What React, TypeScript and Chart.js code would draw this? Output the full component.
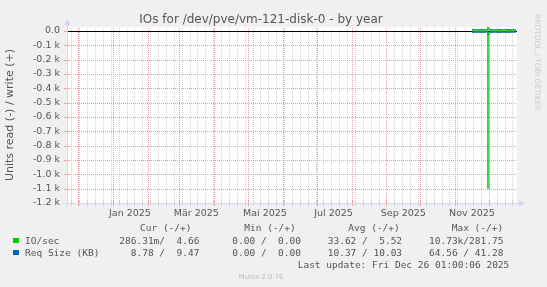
import React, { useEffect, useRef } from 'react';
import { Chart, registerables } from 'chart.js';

Chart.register(...registerables);

// ---------------- data ----------------
const dates = [
  '2025-11-16', '2025-11-17', '2025-11-18', '2025-11-19', '2025-11-20', '2025-11-21', '2025-11-22',
  '2025-11-23', '2025-11-24', '2025-11-25', '2025-11-26', '2025-11-27', '2025-11-28', '2025-11-29',
  '2025-11-30',
  '2025-12-01', '2025-12-02', '2025-12-03', '2025-12-04', '2025-12-05', '2025-12-06', '2025-12-07',
  '2025-12-08', '2025-12-09', '2025-12-10', '2025-12-11', '2025-12-12', '2025-12-13', '2025-12-14',
  '2025-12-15', '2025-12-16', '2025-12-17', '2025-12-18', '2025-12-19', '2025-12-20', '2025-12-21',
  '2025-12-22', '2025-12-23', '2025-12-24', '2025-12-25',
];
const ioRead = [
  -7.2, -5.1, -4.3, -6.8, -3.9, -2.7, -2.4, -5.6, -4.8, -7.5, -4.1, -3.3, -2.6, -3.0,
  -1098,
  -8.4, -5.9, -4.6, -3.8, -2.5, -2.2, -5.3, -4.7, -6.1, -3.9, -3.4, -2.3, -2.1, -4.9, -4.4,
  -5.2, -3.7, -3.1, -2.4, -2.0, -3.6, -2.9, -1.8, -1.2, -0.29,
];
const ioWrite = [
  6.1, 5.4, 4.9, 5.8, 5.2, 4.3, 4.1, 5.6, 5.3, 6.0, 5.1, 4.4, 4.0, 4.6,
  27.5,
  7.9, 6.2, 5.5, 5.0, 4.2, 3.9, 5.4, 5.2, 5.9, 4.8, 4.5, 3.8, 3.7, 5.1, 4.9,
  5.3, 4.6, 4.2, 3.9, 3.6, 4.4, 4.1, 3.5, 3.9, 4.66,
];
const reqRead = [
  -11.2, -10.5, -9.8, -10.9, -10.1, -9.4, -9.2, -10.6, -10.3, -11.0, -10.2, -9.6, -9.3, -9.9,
  -28.0,
  -11.4, -10.7, -10.2, -9.9, -9.3, -9.1, -10.4, -10.2, -10.8, -9.9, -9.7, -9.2, -9.0, -10.3, -10.1,
  -10.4, -9.8, -9.5, -9.2, -8.9, -9.7, -9.4, -8.8, -9.1, -8.78,
];
const reqWrite = [
  10.4, 10.1, 9.8, 10.3, 10.0, 9.6, 9.5, 10.2, 10.1, 10.5, 9.9, 9.7, 9.5, 9.8,
  12.6,
  10.6, 10.2, 10.0, 9.8, 9.5, 9.4, 10.1, 10.0, 10.3, 9.8, 9.7, 9.4, 9.3, 10.0, 9.9,
  10.1, 9.7, 9.6, 9.4, 9.3, 9.7, 9.5, 9.2, 9.4, 9.47,
];

const yTickValues = [-1200, -1100, -1000, -900, -800, -700, -600, -500, -400, -300, -200, -100, 0];
const yMin = -1200;
const yMax = 28;

const monthLabels = ['Jan 2025', 'Mär 2025', 'Mai 2025', 'Jul 2025', 'Sep 2025', 'Nov 2025'];
const monthLabelDates = ['2025-01-01', '2025-03-01', '2025-05-01', '2025-07-01', '2025-09-01', '2025-11-01'];

const titleText = 'IOs for /dev/pve/vm-121-disk-0 - by year';
const yAxisTitle = 'Units read (-) / write (+)';
const legendHeaders = ['Cur (-/+)', 'Min (-/+)', 'Avg (-/+)', 'Max (-/+)'];
const seriesNames = ['IO/sec', 'Req Size (KB)'];
const seriesColors = ['#00CC00', '#0066B3'];
const statCur = ['286.31m/  4.66', '  8.78 /  9.47'];
const statMin = ['  0.00 /  0.00', '  0.00 /  0.00'];
const statAvg = [' 33.62 /  5.52', ' 10.37 / 10.03'];
const statMax = [' 10.73k/281.75', ' 64.56 / 41.28'];
const lastUpdate = 'Last update: Fri Dec 26 01:00:06 2025';
const footer = 'Munin 2.0.76';
const watermark = 'RRDTOOL / TOBI OETIKER';

// ---------------- time helpers ----------------
const END_MS = Date.parse('2025-12-26T01:00:06+01:00');
const SPAN_DAYS = 400;
const START_MS = END_MS - SPAN_DAYS * 86400000;
const toDay = (iso: string) => (Date.parse(iso + 'T00:00:00+01:00') - START_MS) / 86400000;

function monthStarts(): number[] {
  const out: number[] = [];
  for (let y = 2024; y <= 2025; y++) {
    for (let m = 0; m < 12; m++) {
      const d = toDay(`${y}-${String(m + 1).padStart(2, '0')}-01`);
      if (d > 0 && d < SPAN_DAYS) out.push(d);
    }
  }
  return out;
}
function mondays(majors: number[]): number[] {
  const out: number[] = [];
  const first = Date.parse('2024-11-25T00:00:00+01:00');
  for (let t = first; t < END_MS; t += 7 * 86400000) {
    const d = (t - START_MS) / 86400000;
    if (d > 0 && d < SPAN_DAYS && !majors.some((m) => Math.abs(m - d) < 0.5)) out.push(d);
  }
  return out;
}
const labelTicks = monthLabelDates.map((iso, i) => ({ value: toDay(iso) + 15, label: monthLabels[i] }));

const AXIS = '#CFD6F8';
const MAJOR = '#F49A9A';
const MINOR = '#D2D2D2';
const FONT = "'DejaVu Sans', sans-serif";
const MONO = "'DejaVu Sans Mono', monospace";
const TXT = '#555555';

const decor = {
  id: 'decor',
  beforeDraw(chart: any) {
    const { ctx, chartArea: a } = chart;
    ctx.save();
    ctx.fillStyle = '#F0F0F0';
    ctx.fillRect(0, 0, chart.width, chart.height);
    ctx.fillStyle = '#FFFFFF';
    ctx.fillRect(a.left, a.top, a.right - a.left, a.bottom - a.top);
    ctx.restore();
  },
  beforeDatasetsDraw(chart: any) {
    const { ctx, chartArea: a, scales } = chart;
    const majors = monthStarts();
    const minors = mondays(majors);
    const top = Math.round(a.top);
    const bottom = Math.round(a.bottom);
    const left = Math.round(a.left);
    const right = Math.round(a.right);
    ctx.save();
    ctx.lineWidth = 1;
    const vline = (d: number, color: string) => {
      const px = Math.round(scales.x.getPixelForValue(d)) + 0.5;
      ctx.strokeStyle = color;
      ctx.setLineDash([1, 1]);
      ctx.beginPath();
      ctx.moveTo(px, bottom);
      ctx.lineTo(px, top);
      ctx.stroke();
      // small tick marks across the axis
      ctx.setLineDash([]);
      ctx.beginPath();
      ctx.moveTo(px, bottom - 2);
      ctx.lineTo(px, bottom + 3);
      ctx.stroke();
    };
    minors.forEach((d) => vline(d, MINOR));
    majors.forEach((d) => vline(d, MAJOR));
    ctx.setLineDash([1, 1]);
    ctx.strokeStyle = MAJOR;
    for (const v of yTickValues) {
      const py = Math.round(scales.y.getPixelForValue(v)) + 0.5;
      ctx.beginPath();
      ctx.moveTo(left, py);
      ctx.lineTo(right, py);
      ctx.stroke();
    }
    ctx.setLineDash([]);
    for (const v of yTickValues) {
      const py = Math.round(scales.y.getPixelForValue(v)) + 0.5;
      ctx.beginPath();
      ctx.moveTo(left - 3, py);
      ctx.lineTo(left + 2, py);
      ctx.stroke();
    }
    // zero line
    const y0 = Math.round(scales.y.getPixelForValue(0)) + 0.5;
    ctx.strokeStyle = '#000000';
    ctx.beginPath();
    ctx.moveTo(left, y0);
    ctx.lineTo(right, y0);
    ctx.stroke();
    ctx.restore();
  },
  afterDraw(chart: any) {
    const { ctx, chartArea: a } = chart;
    const lx = Math.round(a.left) + 0.5;
    const by = Math.round(a.bottom) + 0.5;
    ctx.save();
    ctx.strokeStyle = AXIS;
    ctx.fillStyle = AXIS;
    ctx.lineWidth = 1;
    ctx.beginPath();
    ctx.moveTo(lx, a.bottom + 4);
    ctx.lineTo(lx, a.top - 3);
    ctx.moveTo(a.left - 4, by);
    ctx.lineTo(a.right + 3, by);
    ctx.stroke();
    ctx.beginPath();
    ctx.moveTo(lx, a.top - 8);
    ctx.lineTo(lx - 3, a.top - 2);
    ctx.lineTo(lx + 3, a.top - 2);
    ctx.closePath();
    ctx.fill();
    ctx.beginPath();
    ctx.moveTo(a.right + 8, by);
    ctx.lineTo(a.right + 2, by - 3);
    ctx.lineTo(a.right + 2, by + 3);
    ctx.closePath();
    ctx.fill();
    ctx.restore();
  },
};

function makeSet(label: string, values: number[], color: string) {
  return {
    label,
    data: dates.map((d, i) => ({ x: toDay(d), y: values[i] })),
    borderColor: color,
    backgroundColor: color,
    borderWidth: 1,
    pointRadius: 0,
    stepped: 'before' as const,
    fill: false,
  };
}

export default function App() {
  const ref = useRef<HTMLCanvasElement | null>(null);

  useEffect(() => {
    if (!ref.current) return;
    const chart = new Chart(ref.current, {
      type: 'line',
      data: {
        datasets: [
          makeSet('IO/sec read', ioRead, seriesColors[0]),
          makeSet('IO/sec write', ioWrite, seriesColors[0]),
          makeSet('Req Size (KB) read', reqRead, seriesColors[1]),
          makeSet('Req Size (KB) write', reqWrite, seriesColors[1]),
        ],
      },
      options: {
        animation: false,
        responsive: false,
        events: [],
        layout: { padding: { left: 0, right: 30, top: 27, bottom: 64 } },
        plugins: { legend: { display: false }, tooltip: { enabled: false }, title: { display: false } },
        scales: {
          x: {
            type: 'linear',
            min: 0,
            max: SPAN_DAYS,
            afterBuildTicks: (s: any) => {
              s.ticks = labelTicks.map((t) => ({ value: t.value }));
            },
            afterFit: (s: any) => {
              s.height = 20;
            },
            ticks: {
              autoSkip: false,
              maxRotation: 0,
              minRotation: 0,
              padding: 5,
              color: TXT,
              font: { family: FONT, size: 9.5 },
              callback: (_v: any, i: number) => (labelTicks[i] ? labelTicks[i].label : ''),
            },
            grid: { display: false, drawTicks: false },
            border: { display: false },
          },
          y: {
            type: 'linear',
            min: yMin,
            max: yMax,
            afterBuildTicks: (s: any) => {
              s.ticks = yTickValues.map((v) => ({ value: v }));
            },
            afterFit: (s: any) => {
              s.width = 67;
            },
            ticks: {
              padding: 7,
              color: TXT,
              font: { family: FONT, size: 9.5 },
              callback: (v: any) => (Number(v) === 0 ? '0.0' : (Number(v) / 1000).toFixed(1) + ' k'),
            },
            grid: { display: false, drawTicks: false },
            border: { display: false },
            title: {
              display: true,
              text: yAxisTitle,
              color: TXT,
              font: { family: FONT, size: 11 },
              padding: { top: 4, bottom: 0 },
            },
          },
        },
      },
      plugins: [decor],
    } as any);
    return () => chart.destroy();
  }, []);

  const abs = (extra: React.CSSProperties): React.CSSProperties => ({
    position: 'absolute',
    whiteSpace: 'pre',
    lineHeight: 1,
    margin: 0,
    ...extra,
  });

  const headerLefts = [140, 244.3, 348.3, 451.7];
  const colLefts = [119.3, 220.9, 322, 423.3];
  const rowTops = [235.5, 247.8];
  const stats = [statCur, statMin, statAvg, statMax];

  return (
    <div
      style={{
        position: 'fixed',
        left: 0,
        top: 0,
        width: 547,
        height: 287,
        background: '#F0F0F0',
        overflow: 'hidden',
      }}
    >
      <canvas ref={ref} width={547} height={287} style={{ position: 'absolute', left: 0, top: 0, width: 547, height: 287 }} />
      <div style={abs({ left: 0, width: 522, top: 13, textAlign: 'center', fontFamily: FONT, fontSize: 12, color: TXT })}>
        {titleText}
      </div>
      <div
        style={abs({
          left: 533.8,
          top: 14,
          writingMode: 'vertical-rl',
          fontFamily: FONT,
          fontSize: 7.5,
          color: '#CCCCCC',
        })}
      >
        {watermark}
      </div>
      {legendHeaders.map((h, i) => (
        <div key={'h' + i} style={abs({ left: headerLefts[i], top: 222.5, fontFamily: MONO, fontSize: 9.5, color: TXT })}>
          {h}
        </div>
      ))}
      {seriesNames.map((n, r) => (
        <React.Fragment key={'r' + r}>
          <div
            style={{
              position: 'absolute',
              left: 13,
              top: rowTops[r] + 2,
              width: 5.5,
              height: 5.5,
              background: seriesColors[r],
            }}
          />
          <div style={abs({ left: 25, top: rowTops[r], fontFamily: MONO, fontSize: 9.5, color: TXT })}>{n}</div>
          {stats.map((col, c) => (
            <div key={c} style={abs({ left: colLefts[c], top: rowTops[r], fontFamily: MONO, fontSize: 9.5, color: TXT })}>
              {col[r]}
            </div>
          ))}
        </React.Fragment>
      ))}
      <div style={abs({ left: 297.7, top: 259.5, fontFamily: MONO, fontSize: 9.5, color: TXT })}>{lastUpdate}</div>
      <div style={abs({ left: 0, width: 522, top: 273.5, textAlign: 'center', fontFamily: FONT, fontSize: 6.8, color: '#BBBBBB' })}>
        {footer}
      </div>
    </div>
  );
}
